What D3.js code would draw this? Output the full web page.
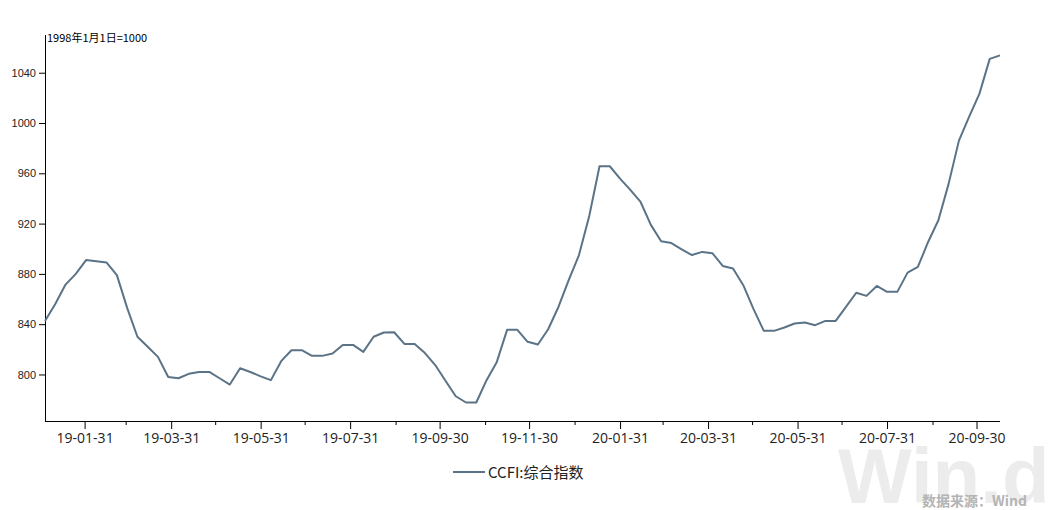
<!DOCTYPE html>
<html><head><meta charset="utf-8">
<script src="https://cdn.jsdelivr.net/npm/d3@7"></script>
<style>
html,body{margin:0;padding:0;background:#fff;}
svg{display:block;}
</style>
</head><body>
<svg id="chart" width="1049" height="510"></svg>
<script>
const dates = [
"2019-01-04","2019-01-11","2019-01-18","2019-01-25","2019-02-01","2019-02-08","2019-02-15","2019-02-22",
"2019-03-01","2019-03-08","2019-03-15","2019-03-22","2019-03-29","2019-04-05","2019-04-12","2019-04-19","2019-04-26",
"2019-05-03","2019-05-10","2019-05-17","2019-05-24","2019-05-31","2019-06-07","2019-06-14","2019-06-21","2019-06-28",
"2019-07-05","2019-07-12","2019-07-19","2019-07-26","2019-08-02","2019-08-09","2019-08-16","2019-08-23","2019-08-30",
"2019-09-06","2019-09-13","2019-09-20","2019-09-27","2019-10-04","2019-10-11","2019-10-18","2019-10-25",
"2019-11-01","2019-11-08","2019-11-15","2019-11-22","2019-11-29","2019-12-06","2019-12-13","2019-12-20","2019-12-27",
"2020-01-03","2020-01-10","2020-01-17","2020-01-24","2020-01-31","2020-02-07","2020-02-14","2020-02-21","2020-02-28",
"2020-03-06","2020-03-13","2020-03-20","2020-03-27","2020-04-03","2020-04-10","2020-04-17","2020-04-24",
"2020-05-01","2020-05-08","2020-05-15","2020-05-22","2020-05-29","2020-06-05","2020-06-12","2020-06-19","2020-06-26",
"2020-07-03","2020-07-10","2020-07-17","2020-07-24","2020-07-31","2020-08-07","2020-08-14","2020-08-21","2020-08-28",
"2020-09-04","2020-09-11","2020-09-18","2020-09-25","2020-10-02","2020-10-09","2020-10-16"
];
const ccfi = [
842.6,856,871.5,880,891,890,889,879,853,830,822,814,798,797,800.5,802,802,797,792,805,802,798.5,795.5,
810.6,819.3,819.3,814.8,814.8,816.7,823.5,823.5,818,830,833.4,833.6,824.3,824.3,817,807.5,795,782.7,777.7,777.7,
795.5,810,835.5,835.5,826,823.8,836,853.7,875,895,926,965.6,965.6,955.8,946.8,937.2,919,906,904.5,899.5,
895,897.5,896.4,886.3,884.3,871,852,834.7,834.7,837.4,840.5,841.3,839.2,842.6,842.6,853.7,865,862.5,870.4,
865.7,865.7,881,885.5,905.4,922.7,951.8,986,1005,1023.4,1051,1053.8
];
const yTicks = [800, 840, 880, 920, 960, 1000, 1040];
const seriesName = "CCFI:综合指数";
const unitLabel = "1998年1月1日=1000";
const sourceLabel = "数据来源：Wind";

const parse = d3.timeParse("%Y-%m-%d");
const data = dates.map((d, i) => ({date: parse(d), value: ccfi[i]}));

const svg = d3.select("#chart");
const x = d3.scaleTime().domain([parse("2019-01-04"), parse("2020-10-16")]).range([45, 1000]);
const y = d3.scaleLinear().domain([763, 1070]).range([421, 35]);

// watermark
svg.append("text").attr("x", 838).attr("y", 503)
  .attr("font-family", "Liberation Sans, Arial, sans-serif").attr("font-weight", "bold")
  .attr("font-size", 78).attr("fill", "#ececec").text("Win.d");
svg.append("text").attr("x", 1027).attr("y", 506).attr("text-anchor", "end")
  .attr("font-family", "Noto Sans CJK SC, sans-serif").attr("font-weight", "bold")
  .attr("font-size", 14).attr("fill", "#b4b4b4").text(sourceLabel);

// month-end ticks
const monthStarts = d3.timeMonth.range(parse("2019-01-01"), parse("2020-10-01"));
const monthEnds = monthStarts.map(m => d3.timeDay.offset(d3.timeMonth.offset(m, 1), -1));
const majorTicks = monthEnds.filter(d => d.getMonth() % 2 === 0);
const minorTicks = monthEnds.filter(d => d.getMonth() % 2 === 1);
const fmt = d3.timeFormat("%y-%m-%d");

const xAxis = svg.append("g").attr("transform", "translate(0,421)")
  .call(d3.axisBottom(x).tickValues(majorTicks).tickFormat(fmt).tickSizeInner(8).tickSizeOuter(0).tickPadding(4));
xAxis.select(".domain").attr("d", "M45,0.5H1000").attr("stroke", "#000");
xAxis.selectAll("text").attr("font-family", "Open Sans, sans-serif").attr("font-size", 14).attr("fill", "#222");
const xMinor = svg.append("g").attr("transform", "translate(0,421)")
  .call(d3.axisBottom(x).tickValues(minorTicks).tickFormat("").tickSizeInner(4).tickSizeOuter(0));
xMinor.select(".domain").remove();

const yAxis = svg.append("g").attr("transform", "translate(45,0)")
  .call(d3.axisLeft(y).tickValues(yTicks).tickFormat(d3.format("d")).tickSizeInner(6).tickSizeOuter(0).tickPadding(3));
yAxis.select(".domain").attr("d", "M0.5,35V421").attr("stroke", "#000");
yAxis.selectAll("text").attr("font-family", "Liberation Sans, Arial, sans-serif").attr("font-size", 11).attr("fill", "#222");

svg.append("text").attr("x", 47).attr("y", 42)
  .attr("font-family", "Noto Sans CJK SC, sans-serif").attr("font-size", 11).attr("fill", "#000")
  .text(unitLabel);

const line = d3.line().x(d => x(d.date)).y(d => y(d.value));
svg.append("path").datum(data).attr("d", line)
  .attr("fill", "none").attr("stroke", "#5b7386").attr("stroke-width", 2).attr("stroke-linejoin", "round");

// legend
svg.append("line").attr("x1", 453).attr("x2", 485).attr("y1", 472).attr("y2", 472)
  .attr("stroke", "#5b7386").attr("stroke-width", 2);
svg.append("text").attr("x", 488).attr("y", 478)
  .attr("font-family", "Noto Sans CJK SC, sans-serif").attr("font-size", 15).attr("fill", "#222")
  .text(seriesName);
</script>
</body></html>
